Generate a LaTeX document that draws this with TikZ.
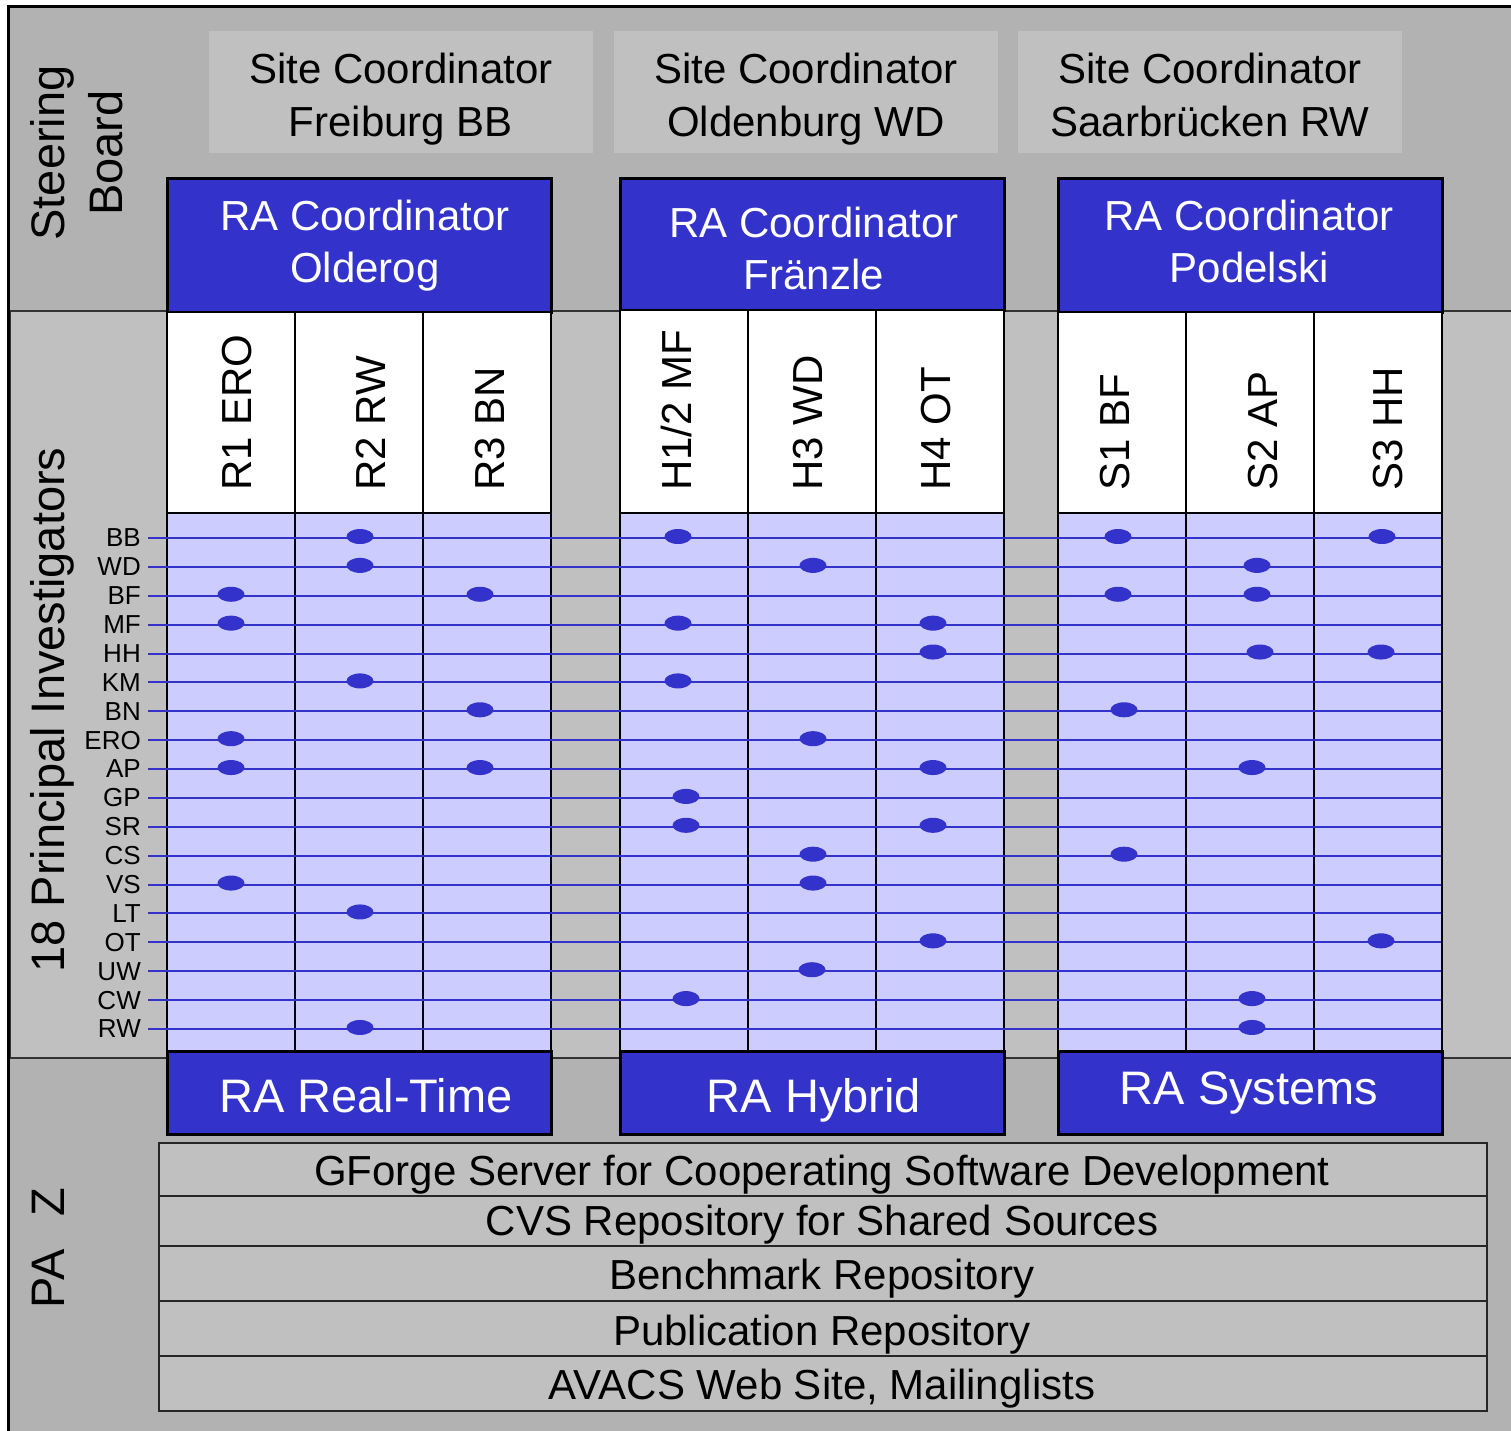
\documentclass[tikz,border=0pt]{standalone}
\usepackage{fontspec}
\setmainfont{Liberation Sans}
\usetikzlibrary{shapes.geometric}
\definecolor{rablue}{HTML}{3333CC}
\definecolor{lav}{HTML}{CCCCFF}
\definecolor{bandA}{HTML}{B2B2B2}
\definecolor{bandB}{HTML}{C0C0C0}
\begin{document}
\begin{tikzpicture}[x=1pt,y=-1pt,
  bandline/.style={draw=black!80, line width=1.5pt},
  sitebox/.style={fill=bandB, draw=none, inner sep=0, anchor=north west, minimum width=384pt, minimum height=122pt},
  rabox/.style={fill=rablue, draw=black, line width=2.5pt, inner sep=0, anchor=north west, minimum width=384pt},
  headbox/.style={fill=white, draw=black, line width=2pt, inner sep=0, anchor=north west, minimum width=128pt},
  gridcol/.style={fill=lav, draw=black, line width=2pt, inner sep=0, anchor=north west, minimum width=128pt, minimum height=538pt},
  piline/.style={draw=rablue, line width=2pt},
  pidot/.style={ellipse, fill=rablue, inner sep=0, minimum width=27pt, minimum height=15pt},
  pilabel/.style={anchor=east, inner sep=0, font=\fontsize{26}{30}\selectfont},
  repobox/.style={fill=bandB, draw=black!85, line width=1.5pt, inner sep=0, anchor=north west, minimum width=1328pt},
  txt/.style={inner sep=0, anchor=base, font=\fontsize{42}{50}\selectfont},
  wtxt/.style={txt, text=white},
  bigw/.style={inner sep=0, anchor=base, text=white, font=\fontsize{47}{56}\selectfont},
  coltxt/.style={inner sep=0, anchor=base west, rotate=90, font=\fontsize{42}{50}\selectfont},
  sidetxt/.style={inner sep=0, anchor=base, rotate=90, font=\fontsize{47}{56}\selectfont}
]
\useasboundingbox (0,0) rectangle (1511,1430);
\clip (0,0) rectangle (1511,1430);
\fill[white] (0,0) rectangle (1511,1430);

% bands
\path[fill=bandA, bandline] (8,6) rectangle (1530,311);
\path[fill=bandB, bandline] (10,311) rectangle (1530,1058);
\path[fill=bandA, bandline] (8,1058) rectangle (1530,1445);
\draw[black, line width=3pt] (8,1445) -- (8,6) -- (1530,6);

% site coordinators
\node[sitebox] (sc1) at (209,31) {};
\node[sitebox] (sc2) at (614,31) {};
\node[sitebox] (sc3) at (1018,31) {};

% RA coordinator boxes, headers, grid columns
\foreach \g/\gx/\ht in {1/166/311, 2/619/309, 3/1057/311} {
  \node[rabox, minimum height={\ht-177}] (rac\g) at (\gx,177) {};
  \foreach \k in {0,1,2} {
    \node[headbox, minimum height={512-\ht}] (hd\g\k) at ({\gx+\k*128},\ht) {};
    \node[gridcol] (gc\g\k) at ({\gx+\k*128},512) {};
  }
}

% PI rows
\foreach \n [count=\i from 0] in {BB,WD,BF,MF,HH,KM,BN,ERO,AP,GP,SR,CS,VS,LT,OT,UW,CW,RW} {
  \pgfmathsetmacro{\yy}{538+\i*28.88}
  \node[pilabel] (lab\n) at (141,\yy) {\n};
  \coordinate (L\n) at (148,\yy);
  \coordinate (E\n) at (1441,\yy);
}
\foreach \n in {BB,WD,BF,MF,HH,KM,BN,ERO,AP,GP,SR,CS,VS,LT,OT,UW,CW,RW} {
  \draw[piline] (L\n) -- (E\n);
}

% dots
\foreach \x/\r [count=\d] in {
  231/2, 231/3, 231/7, 231/8, 231/12,
  360/0, 360/1, 360/5, 360/13, 360/17,
  480/2, 480/6, 480/8,
  678/0, 678/3, 678/5, 686/9, 686/10, 686/16,
  813/1, 813/7, 813/11, 813/12, 812/15,
  933/3, 933/4, 933/8, 933/10, 933/14,
  1118/0, 1118/2, 1124/6, 1124/11,
  1257/1, 1257/2, 1260/4, 1252/8, 1252/16, 1252/17,
  1382/0, 1381/4, 1381/14} {
  \pgfmathsetmacro{\yy}{538+\r*28.88-1.5}
  \node[pidot] (dot\d) at (\x,\yy) {};
}

% bottom RA boxes
\node[rabox, minimum height=83pt] (rab1) at (166,1050) {};
\node[rabox, minimum height=83pt] (rab2) at (619,1050) {};
\node[rabox, minimum height=83pt] (rab3) at (1057,1050) {};

% repositories
\node[repobox, minimum height=53pt] (repo1) at (158,1142) {};
\node[repobox, minimum height=50pt] (repo2) at (158,1195) {};
\node[repobox, minimum height=55pt] (repo3) at (158,1245) {};
\node[repobox, minimum height=55pt] (repo4) at (158,1300) {};
\node[repobox, minimum height=55pt] (repo5) at (158,1355) {};

% side labels
\node[sidetxt] (steer1) at (64,153) {Steering};
\node[sidetxt] (steer2) at (122,153) {Board};
\node[sidetxt] (pis) at (64,710) {18 Principal Investigators};
\node[sidetxt] (paz) at (64,1248) {PA\hspace{33pt}Z};

% site coordinator texts
\node[txt] (sc1a) at (401,83) {Site Coordinator};
\node[txt] (sc1b) at (401,136) {Freiburg BB};
\node[txt] (sc2a) at (806,83) {Site Coordinator};
\node[txt] (sc2b) at (806,136) {Oldenburg WD};
\node[txt] (sc3a) at (1210,83) {Site Coordinator};
\node[txt] (sc3b) at (1210,136) {Saarbrücken RW};

% RA coordinator texts
\node[wtxt] (ra1a) at (365,230) {RA Coordinator};
\node[wtxt] (ra1b) at (365,282) {Olderog};
\node[wtxt] (ra2a) at (814,237) {RA Coordinator};
\node[wtxt] (ra2b) at (814,289) {Fränzle};
\node[wtxt] (ra3a) at (1249,230) {RA Coordinator};
\node[wtxt] (ra3b) at (1249,282) {Podelski};

% column header texts
\node[coltxt] (c11) at (251,491) {R1 ERO};
\node[coltxt] (c12) at (385,491) {R2 RW};
\node[coltxt] (c13) at (504,491) {R3 BN};
\node[coltxt] (c21) at (691,491) {H1/2 MF};
\node[coltxt] (c22) at (822,491) {H3 WD};
\node[coltxt] (c23) at (950,491) {H4 OT};
\node[coltxt] (c31) at (1129,491) {S1 BF};
\node[coltxt] (c32) at (1277,491) {S2 AP};
\node[coltxt] (c33) at (1402,491) {S3 HH};

% bottom RA texts
\node[bigw] (rt1) at (366,1112) {RA Real-Time};
\node[bigw] (rt2) at (814,1112) {RA Hybrid};
\node[bigw] (rt3) at (1249,1104) {RA Systems};

% repository texts
\node[txt] (rp1) at (822,1185) {GForge Server for Cooperating Software Development};
\node[txt] (rp2) at (822,1235) {CVS Repository for Shared Sources};
\node[txt] (rp3) at (822,1289) {Benchmark Repository};
\node[txt] (rp4) at (822,1345) {Publication Repository};
\node[txt] (rp5) at (822,1399) {AVACS Web Site, Mailinglists};
\end{tikzpicture}
\end{document}
